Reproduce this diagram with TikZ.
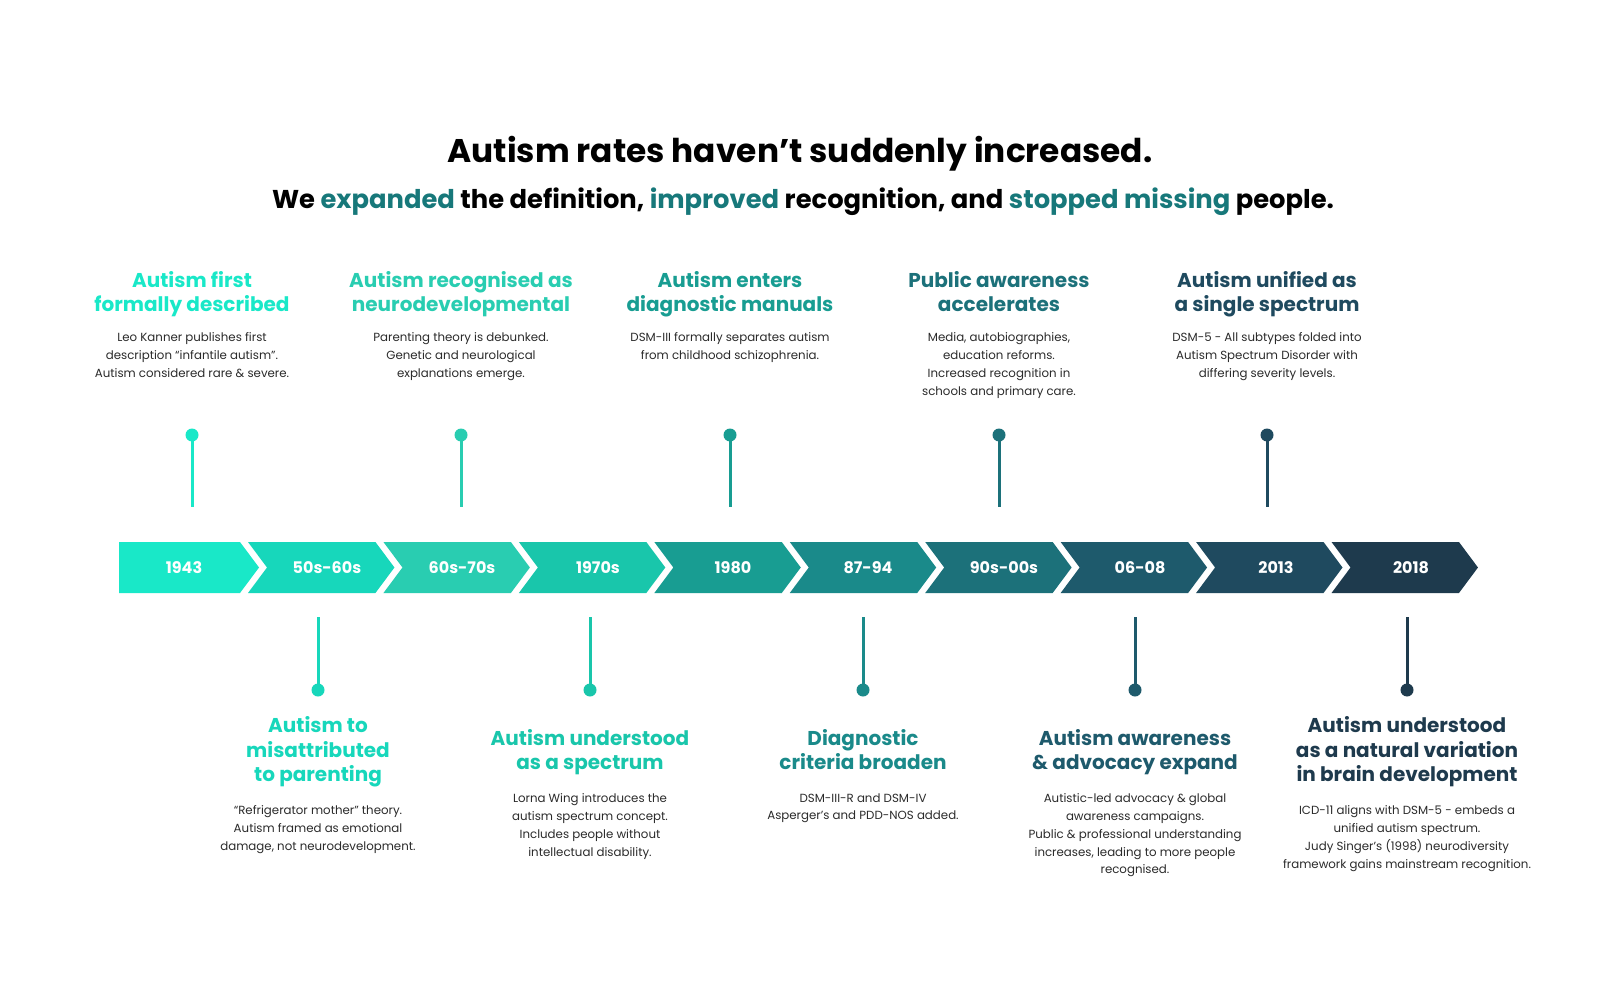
\documentclass[tikz,border=0pt]{standalone}
\usepackage{fontspec}
\setmainfont{Poppins}
\usepackage{xcolor}
\usetikzlibrary{positioning}

\definecolor{tl1}{HTML}{19E8C8}
\definecolor{tl2}{HTML}{17D7BB}
\definecolor{tl3}{HTML}{29CDB1}
\definecolor{tl4}{HTML}{19C6AB}
\definecolor{tl5}{HTML}{189D92}
\definecolor{tl6}{HTML}{1A8A8A}
\definecolor{tl7}{HTML}{1C717A}
\definecolor{tl8}{HTML}{1E5A6C}
\definecolor{tl9}{HTML}{1F4A5F}
\definecolor{tl10}{HTML}{1E3A4D}
\definecolor{hl}{HTML}{17787A}
\definecolor{txtgray}{HTML}{2B2B2B}

\begin{document}
\begin{tikzpicture}[x=1pt,y=-1pt,
    yr/.style={inner sep=0pt, text=white, font=\fontsize{16}{18}\selectfont\bfseries},
    head/.style={align=center, inner sep=0pt, font=\fontsize{20}{24.5}\selectfont\bfseries,
        execute at begin node=\strut, execute at end node=\strut},
    txt/.style={align=center, inner sep=0pt, text=txtgray, font=\fontsize{11.8}{17.9}\selectfont,
        execute at begin node=\strut, execute at end node=\strut},
    dot/.style={circle, minimum size=13pt, inner sep=0pt},
    pin/.style={line width=3pt}]

        \fill[white] (0,0) rectangle (1600,1000);
        \useasboundingbox (0,0) rectangle (1600,1000);

        % Title
        \node[anchor=base, font=\fontsize{32.8}{38}\selectfont\bfseries] (title) at (800,163) {Autism rates haven’t suddenly increased.};
        \node[anchor=base, font=\fontsize{25.8}{30}\selectfont\bfseries] (subtitle) at (803,209) {We \textcolor{hl}{expanded} the definition, \textcolor{hl}{improved} recognition, and \textcolor{hl}{stopped missing} people.};

        % Timeline bar
        \fill[tl1] (119,542) -- ++(121,0) -- ++(19,25.5) -- ++(-19,25.5) -- ++(-121,0) -- cycle;
        \fill[tl2] (248,542) -- ++(127.44,0) -- ++(19,25.5) -- ++(-19,25.5) -- ++(-127.44,0) -- ++(19,-25.5) -- cycle;
        \fill[tl3] (383.44,542) -- ++(127.44,0) -- ++(19,25.5) -- ++(-19,25.5) -- ++(-127.44,0) -- ++(19,-25.5) -- cycle;
        \fill[tl4] (518.88,542) -- ++(127.44,0) -- ++(19,25.5) -- ++(-19,25.5) -- ++(-127.44,0) -- ++(19,-25.5) -- cycle;
        \fill[tl5] (654.32,542) -- ++(127.44,0) -- ++(19,25.5) -- ++(-19,25.5) -- ++(-127.44,0) -- ++(19,-25.5) -- cycle;
        \fill[tl6] (789.76,542) -- ++(127.44,0) -- ++(19,25.5) -- ++(-19,25.5) -- ++(-127.44,0) -- ++(19,-25.5) -- cycle;
        \fill[tl7] (925.2,542) -- ++(127.44,0) -- ++(19,25.5) -- ++(-19,25.5) -- ++(-127.44,0) -- ++(19,-25.5) -- cycle;
        \fill[tl8] (1060.64,542) -- ++(127.44,0) -- ++(19,25.5) -- ++(-19,25.5) -- ++(-127.44,0) -- ++(19,-25.5) -- cycle;
        \fill[tl9] (1196.08,542) -- ++(127.44,0) -- ++(19,25.5) -- ++(-19,25.5) -- ++(-127.44,0) -- ++(19,-25.5) -- cycle;
        \fill[tl10] (1331.52,542) -- ++(127.44,0) -- ++(19,25.5) -- ++(-19,25.5) -- ++(-127.44,0) -- ++(19,-25.5) -- cycle;

        % Years
        \node[yr] (yr1) at (184,567.5) {1943};
        \node[yr] (yr2) at (327,567.5) {50s-60s};
        \node[yr] (yr3) at (462,567.5) {60s-70s};
        \node[yr] (yr4) at (598,567.5) {1970s};
        \node[yr] (yr5) at (733,567.5) {1980};
        \node[yr] (yr6) at (868,567.5) {87-94};
        \node[yr] (yr7) at (1004,567.5) {90s-00s};
        \node[yr] (yr8) at (1140,567.5) {06-08};
        \node[yr] (yr9) at (1276,567.5) {2013};
        \node[yr] (yr10) at (1411,567.5) {2018};

        % Pins above the bar
        \node[dot, fill=tl1] (dot1) at (192,435) {};
        \coordinate (end1) at (192,507);
        \draw[pin, tl1] (dot1.center) -- (end1);
        \node[dot, fill=tl3] (dot3) at (461,435) {};
        \coordinate (end3) at (461,507);
        \draw[pin, tl3] (dot3.center) -- (end3);
        \node[dot, fill=tl5] (dot5) at (730,435) {};
        \coordinate (end5) at (730,507);
        \draw[pin, tl5] (dot5.center) -- (end5);
        \node[dot, fill=tl7] (dot7) at (999,435) {};
        \coordinate (end7) at (999,507);
        \draw[pin, tl7] (dot7.center) -- (end7);
        \node[dot, fill=tl9] (dot9) at (1267,435) {};
        \coordinate (end9) at (1267,507);
        \draw[pin, tl9] (dot9.center) -- (end9);

        % Pins below the bar
        \node[dot, fill=tl2] (dot2) at (318,690) {};
        \coordinate (end2) at (318,617);
        \draw[pin, tl2] (dot2.center) -- (end2);
        \node[dot, fill=tl4] (dot4) at (590,690) {};
        \coordinate (end4) at (590,617);
        \draw[pin, tl4] (dot4.center) -- (end4);
        \node[dot, fill=tl6] (dot6) at (863,690) {};
        \coordinate (end6) at (863,617);
        \draw[pin, tl6] (dot6.center) -- (end6);
        \node[dot, fill=tl8] (dot8) at (1135,690) {};
        \coordinate (end8) at (1135,617);
        \draw[pin, tl8] (dot8.center) -- (end8);
        \node[dot, fill=tl10] (dot10) at (1407,690) {};
        \coordinate (end10) at (1407,617);
        \draw[pin, tl10] (dot10.center) -- (end10);

        % Events above
        \node[head, text=tl1] (head1) at (192,295) {Autism first\\formally described};
        \node[txt, below=13pt of head1] (txt1) {Leo Kanner publishes first\\description “infantile autism”.\\Autism considered rare \& severe.};
        \node[head, text=tl3] (head3) at (461,295) {Autism recognised as\\neurodevelopmental};
        \node[txt, below=13pt of head3] (txt3) {Parenting theory is debunked.\\Genetic and neurological\\explanations emerge.};
        \node[head, text=tl5] (head5) at (730,295) {Autism enters\\diagnostic manuals};
        \node[txt, below=13pt of head5] (txt5) {DSM-III formally separates autism\\from childhood schizophrenia.};
        \node[head, text=tl7] (head7) at (999,295) {Public awareness\\accelerates};
        \node[txt, below=13pt of head7] (txt7) {Media, autobiographies,\\education reforms.\\Increased recognition in\\schools and primary care.};
        \node[head, text=tl9] (head9) at (1267,295) {Autism unified as\\a single spectrum};
        \node[txt, below=13pt of head9] (txt9) {DSM-5 - All subtypes folded into\\Autism Spectrum Disorder with\\differing severity levels.};

        % Events below
        \node[head, text=tl2] (head2) at (318,753) {Autism to\\misattributed\\to parenting};
        \node[txt, below=16pt of head2] (txt2) {“Refrigerator mother” theory.\\Autism framed as emotional\\damage, not neurodevelopment.};
        \node[head, text=tl4] (head4) at (590,753) {Autism understood\\as a spectrum};
        \node[txt, below=16pt of head4] (txt4) {Lorna Wing introduces the\\autism spectrum concept.\\Includes people without\\intellectual disability.};
        \node[head, text=tl6] (head6) at (863,753) {Diagnostic\\criteria broaden};
        \node[txt, below=16pt of head6] (txt6) {DSM-III-R and DSM-IV\\Asperger’s and PDD-NOS added.};
        \node[head, text=tl8] (head8) at (1135,753) {Autism awareness\\\& advocacy expand};
        \node[txt, below=16pt of head8] (txt8) {Autistic-led advocacy \& global\\awareness campaigns.\\Public \& professional understanding\\increases, leading to more people\\recognised.};
        \node[head, text=tl10] (head10) at (1407,753) {Autism understood\\as a natural variation\\in brain development};
        \node[txt, below=16pt of head10] (txt10) {ICD-11 aligns with DSM-5 -  embeds a\\unified autism spectrum.\\Judy Singer’s  (1998) neurodiversity\\framework gains mainstream recognition.};
    \end{tikzpicture}
\end{document}
